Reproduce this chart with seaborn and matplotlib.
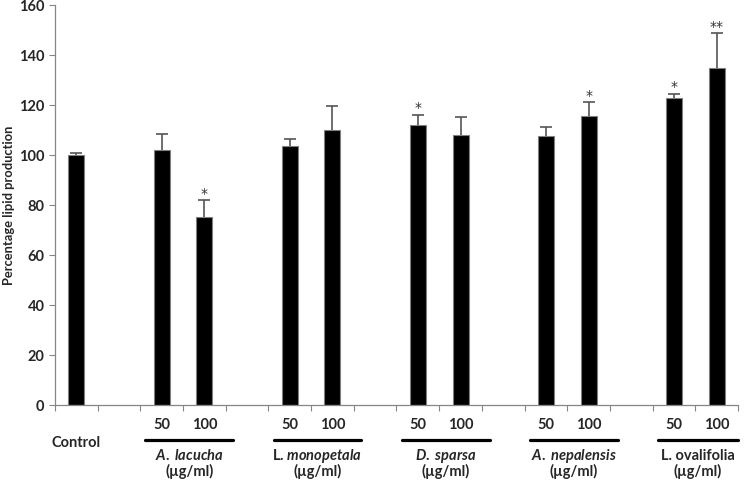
import numpy as np
import pandas as pd
import seaborn as sns
import matplotlib.pyplot as plt
from matplotlib.transforms import blended_transform_factory
from matplotlib.lines import Line2D

# данные
groups = ['Control', 'A. lacucha', 'L. monopetala', 'D. sparsa', 'A. nepalensis', 'L. ovalifolia']
group_labels = ['Control', r'$\mathit{A.}$ $\mathit{lacucha}$', r'L. $\mathit{monopetala}$',
                r'$\mathit{D.}$ $\mathit{sparsa}$', r'$\mathit{A.}$ $\mathit{nepalensis}$', 'L. ovalifolia']
doses = [[''], ['50', '100'], ['50', '100'], ['50', '100'], ['50', '100'], ['50', '100']]
values = [100, 102, 75, 103.5, 110, 112, 108, 107.7, 115.5, 122.6, 134.6]
errors = [0.8, 6.5, 6.7, 2.8, 9.7, 4, 7.2, 3.6, 5.5, 1.8, 14]
stars = ['', '', '*', '', '', '*', '', '', '*', '*', '**']

sns.set_theme(style='ticks')
plt.rcParams['font.family'] = ['Lato', 'DejaVu Sans']
plt.rcParams['font.weight'] = 'bold'
plt.rcParams['mathtext.fontset'] = 'custom'
plt.rcParams['mathtext.it'] = 'Lato:italic:bold'
plt.rcParams['mathtext.rm'] = 'Lato:bold'

# категории с пустыми промежутками между группами (как в Excel)
order = []
rows = []
k = 0
for gi, (g, ds) in enumerate(zip(groups, doses)):
    for d in ds:
        key = f'{g} {d}'.strip()
        order.append(key)
        rows.append({'slot': key, 'group': g, 'dose': d, 'value': values[k], 'err': errors[k], 'star': stars[k]})
        k += 1
    if gi < len(groups) - 1:
        order.append(f'gap{gi}')
df = pd.DataFrame(rows)
df['pos'] = [order.index(s) for s in df['slot']]

fig = plt.figure(figsize=(7.49, 4.81), dpi=100)
ax = fig.add_axes([0.0734, 0.1565, 0.9119, 0.8315])

sns.barplot(data=df, x='slot', y='value', order=order, color='black', width=0.375,
            edgecolor='#808080', linewidth=0.8, saturation=1, errorbar=None, ax=ax, zorder=2)

eb = ax.errorbar(df['pos'], df['value'], yerr=[np.zeros(len(df)), df['err']], fmt='none',
                 ecolor='#555555', elinewidth=1.2, capsize=4, capthick=1.2, zorder=3)
eb[1][0].set_visible(False)

for _, r in df.iterrows():
    if r['star']:
        ax.annotate(r['star'], xy=(r['pos'], r['value'] + r['err']), xytext=(0, 0.5),
                    textcoords='offset points', ha='center', va='bottom',
                    fontsize=10, fontweight='normal', color='#333333', family='DejaVu Sans')

ax.set_ylim(0, 160)
ax.set_yticks(np.arange(0, 161, 20))
ax.set_xlim(-0.5, len(order) - 0.5)
ax.set_xticks(np.arange(-0.5, len(order), 1))
ax.set_xticklabels([])
ax.set_xlabel('')
ax.set_ylabel('Percentage lipid production', fontsize=9.3, fontweight='bold', labelpad=3)
ax.tick_params(axis='both', color='#868686', length=4, width=0.8, labelsize=10.5)
for lab in ax.get_yticklabels():
    lab.set_fontweight('bold')
sns.despine(ax=ax)
for s in ['left', 'bottom']:
    ax.spines[s].set_color('#868686')
    ax.spines[s].set_linewidth(0.9)

# подписи под осью: дозы, линии групп, названия экстрактов
tr = blended_transform_factory(ax.transData, ax.transAxes)
fs = 10.5
for _, r in df.iterrows():
    if r['dose']:
        ax.annotate(r['dose'], xy=(r['pos'], 0), xycoords=tr, xytext=(0, -14),
                    textcoords='offset points', ha='center', va='center', fontsize=fs)
for g, lab in zip(groups, group_labels):
    p = df.loc[df['group'] == g, 'pos']
    if g == 'Control':
        ax.annotate(lab, xy=(p.iloc[0], 0), xycoords=tr, xytext=(0, -27),
                    textcoords='offset points', ha='center', va='center', fontsize=fs)
        continue
    x0, x1 = p.min() - 0.38, min(p.max() + 0.68, len(order) - 0.5)
    ax.add_line(Line2D([x0, x1], [-0.088, -0.088], transform=tr, color='black',
                       linewidth=2.3, clip_on=False))
    mid = (x0 + x1) / 2
    ax.annotate(lab, xy=(mid, 0), xycoords=tr, xytext=(0, -36),
                textcoords='offset points', ha='center', va='center', fontsize=fs)
    ax.annotate('(µg/ml)', xy=(mid, 0), xycoords=tr, xytext=(0, -47.5),
                textcoords='offset points', ha='center', va='center', fontsize=fs)

plt.savefig('out.png', dpi=100)
